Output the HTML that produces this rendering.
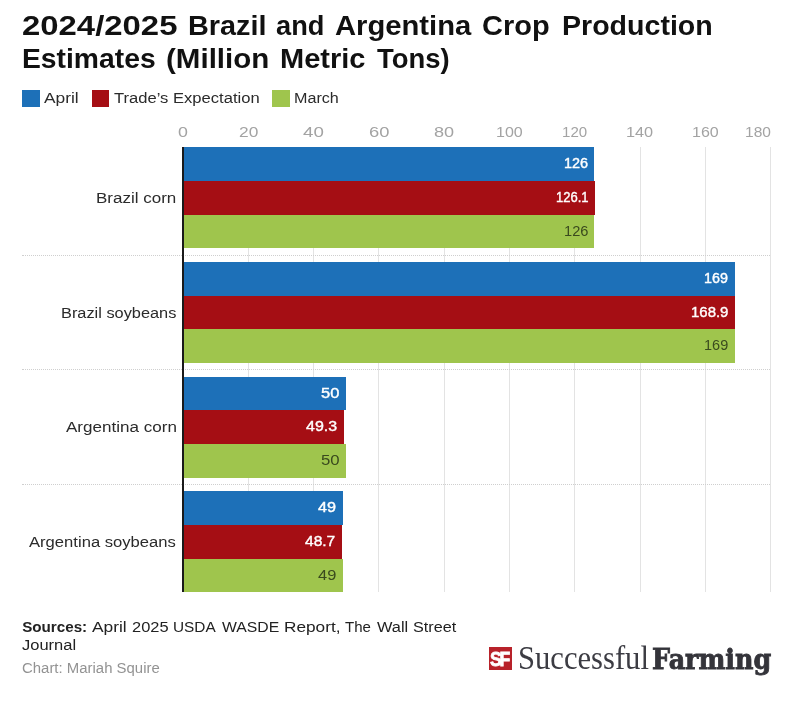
<!DOCTYPE html>
<html lang="en"><head><meta charset="utf-8"><title>2024/2025 Brazil and Argentina Crop Production Estimates</title>
<style>
html,body{margin:0;padding:0;background:#fff;}
body{width:794px;height:702px;position:relative;overflow:hidden;font-family:"Liberation Sans", sans-serif;color:#333;}
.t{position:absolute;white-space:nowrap;line-height:1;transform-origin:0 0;margin:0;}
h1{margin:0;font-size:27.5px;font-weight:bold;color:#111;}
.sw{position:absolute;width:17px;height:17px;top:90px;}
.lg{color:#2b2b2b;}
.grid{position:absolute;top:147px;width:1px;height:445px;background:#e3e3e3;}
.sep{position:absolute;left:22px;width:748px;height:0;border-top:1px dotted #cfcfcf;}
.bar{position:absolute;left:184px;}
.b{background:#1d70b8;} .rd{background:#a50e14;} .g{background:#9fc54d;}
.tick{color:#a3a3a3;}
.cat{color:#2b2b2b;}
.w{color:#fff;-webkit-text-stroke:0.4px #fff;}
.d{color:#3a4a1e;}
.axis{position:absolute;left:182px;top:147px;width:2px;height:445px;background:#1a1a1a;}
.src{color:#222;} .src b{color:#111;}
.by{color:#939393;}
.sfbox{position:absolute;left:489px;top:647px;width:22.5px;height:22.7px;background:#b8222a;}
.sf{color:#fff;-webkit-text-stroke:0.8px #fff;}
.succ{color:#3c3c43;}
.farm{color:#34343a;-webkit-text-stroke:0.9px #34343a;}
</style></head>
<body>
<h1>
<span class="t" style="left:22.25px;top:11.75px;font-size:27.5px;transform:scaleX(1.1958);font-weight:bold;">2024/2025</span>
<span class="t" style="left:187.90px;top:11.75px;font-size:27.5px;transform:scaleX(1.0491);font-weight:bold;">Brazil</span>
<span class="t" style="left:276.05px;top:11.75px;font-size:27.5px;transform:scaleX(0.9895);font-weight:bold;">and</span>
<span class="t" style="left:335.25px;top:11.75px;font-size:27.5px;transform:scaleX(1.0616);font-weight:bold;">Argentina</span>
<span class="t" style="left:482.40px;top:11.75px;font-size:27.5px;transform:scaleX(1.0549);font-weight:bold;">Crop</span>
<span class="t" style="left:561.51px;top:11.75px;font-size:27.5px;transform:scaleX(1.0388);font-weight:bold;">Production</span>
<span class="t" style="left:22.42px;top:44.75px;font-size:27.5px;transform:scaleX(1.0284);font-weight:bold;">Estimates</span>
<span class="t" style="left:166.28px;top:44.75px;font-size:27.5px;transform:scaleX(1.0737);font-weight:bold;">(Million</span>
<span class="t" style="left:279.99px;top:44.75px;font-size:27.5px;transform:scaleX(1.0551);font-weight:bold;">Metric</span>
<span class="t" style="left:377.45px;top:44.75px;font-size:27.5px;transform:scaleX(0.9978);font-weight:bold;">Tons)</span>
</h1>
<div class="legend">
<div class="sw b" style="left:22px;width:18px"></div>
<span class="t lg" style="left:44.00px;top:89.85px;font-size:15.1px;transform:scaleX(1.1491);">April</span>
<div class="sw rd" style="left:92px"></div>
<span class="t lg" style="left:114.00px;top:89.85px;font-size:15.1px;transform:scaleX(1.0985);">Trade’s Expectation</span>
<div class="sw g" style="left:272px;width:18px"></div>
<span class="t lg" style="left:293.63px;top:89.85px;font-size:15.1px;transform:scaleX(1.0680);">March</span>
</div>
<div class="chart">
<div class="grid" style="left:247.5px"></div>
<div class="grid" style="left:312.9px"></div>
<div class="grid" style="left:378.2px"></div>
<div class="grid" style="left:443.5px"></div>
<div class="grid" style="left:508.8px"></div>
<div class="grid" style="left:574.2px"></div>
<div class="grid" style="left:639.5px"></div>
<div class="grid" style="left:704.8px"></div>
<div class="grid" style="left:770.2px"></div>
<span class="t tick" style="left:177.95px;top:123.80px;font-size:15.0px;transform:scaleX(1.1873);">0</span>
<span class="t tick" style="left:238.58px;top:123.80px;font-size:15.0px;transform:scaleX(1.1563);">20</span>
<span class="t tick" style="left:303.16px;top:123.80px;font-size:15.0px;transform:scaleX(1.2481);">40</span>
<span class="t tick" style="left:368.68px;top:123.80px;font-size:15.0px;transform:scaleX(1.2236);">60</span>
<span class="t tick" style="left:434.16px;top:123.80px;font-size:15.0px;transform:scaleX(1.2052);">80</span>
<span class="t tick" style="left:495.62px;top:123.80px;font-size:15.0px;transform:scaleX(1.0680);">100</span>
<span class="t tick" style="left:561.76px;top:123.80px;font-size:15.0px;transform:scaleX(1.0047);">120</span>
<span class="t tick" style="left:626.06px;top:123.80px;font-size:15.0px;transform:scaleX(1.0849);">140</span>
<span class="t tick" style="left:691.61px;top:123.80px;font-size:15.0px;transform:scaleX(1.0680);">160</span>
<span class="t tick" style="left:744.57px;top:123.80px;font-size:15.0px;transform:scaleX(1.0342);">180</span>
<div class="bar b" style="top:147px;height:34px;width:410px"></div>
<span class="t w" style="left:564.01px;top:155.70px;font-size:14.6px;transform:scaleX(0.9895);">126</span>
<div class="bar rd" style="top:181px;height:34px;width:411px"></div>
<span class="t w" style="left:555.51px;top:189.70px;font-size:14.6px;transform:scaleX(0.8923);">126.1</span>
<div class="bar g" style="top:215px;height:33px;width:410px"></div>
<span class="t d" style="left:564.00px;top:223.70px;font-size:14.6px;transform:scaleX(1.0025);">126</span>
<span class="t cat" style="left:96.48px;top:189.80px;font-size:15.2px;transform:scaleX(1.1194);">Brazil corn</span>
<div class="sep" style="top:255px"></div>
<div class="bar b" style="top:262px;height:34px;width:551px"></div>
<span class="t w" style="left:704.42px;top:270.70px;font-size:14.6px;transform:scaleX(0.9809);">169</span>
<div class="bar rd" style="top:296px;height:33px;width:551px"></div>
<span class="t w" style="left:690.88px;top:304.70px;font-size:14.6px;transform:scaleX(1.0250);">168.9</span>
<div class="bar g" style="top:329px;height:34px;width:551px"></div>
<span class="t d" style="left:704.41px;top:338.10px;font-size:14.6px;transform:scaleX(0.9938);">169</span>
<span class="t cat" style="left:60.52px;top:304.80px;font-size:15.2px;transform:scaleX(1.0757);">Brazil soybeans</span>
<div class="sep" style="top:369px"></div>
<div class="bar b" style="top:377px;height:33px;width:162px"></div>
<span class="t w" style="left:321.00px;top:385.70px;font-size:14.6px;transform:scaleX(1.1292);">50</span>
<div class="bar rd" style="top:410px;height:34px;width:160px"></div>
<span class="t w" style="left:306.20px;top:419.30px;font-size:14.6px;transform:scaleX(1.0958);">49.3</span>
<div class="bar g" style="top:444px;height:34px;width:162px"></div>
<span class="t d" style="left:321.00px;top:452.80px;font-size:14.6px;transform:scaleX(1.1478);">50</span>
<span class="t cat" style="left:65.90px;top:418.90px;font-size:15.2px;transform:scaleX(1.1227);">Argentina corn</span>
<div class="sep" style="top:484px"></div>
<div class="bar b" style="top:491px;height:34px;width:159px"></div>
<span class="t w" style="left:318.30px;top:499.70px;font-size:14.6px;transform:scaleX(1.1106);">49</span>
<div class="bar rd" style="top:525px;height:34px;width:158px"></div>
<span class="t w" style="left:305.10px;top:533.80px;font-size:14.6px;transform:scaleX(1.0640);">48.7</span>
<div class="bar g" style="top:559px;height:33px;width:159px"></div>
<span class="t d" style="left:318.30px;top:567.80px;font-size:14.6px;transform:scaleX(1.1292);">49</span>
<span class="t cat" style="left:29.00px;top:533.70px;font-size:15.2px;transform:scaleX(1.0939);">Argentina soybeans</span>
<div class="axis"></div>
</div>
<div class="footer">
<b class="t src" style="left:22.20px;top:618.90px;font-size:15.2px;">Sources:</b>
<span class="t src" style="left:92.00px;top:618.90px;font-size:15.2px;transform:scaleX(1.1427);">April</span>
<span class="t src" style="left:132.00px;top:618.90px;font-size:15.2px;transform:scaleX(1.0824);">2025</span>
<span class="t src" style="left:172.99px;top:618.90px;font-size:15.2px;transform:scaleX(1.0125);">USDA</span>
<span class="t src" style="left:222.00px;top:618.90px;font-size:15.2px;transform:scaleX(1.0380);">WASDE</span>
<span class="t src" style="left:284.37px;top:618.90px;font-size:15.2px;transform:scaleX(1.1346);">Report,</span>
<span class="t src" style="left:345.00px;top:618.90px;font-size:15.2px;transform:scaleX(0.9912);">The</span>
<span class="t src" style="left:376.70px;top:618.90px;font-size:15.2px;transform:scaleX(1.0771);">Wall</span>
<span class="t src" style="left:413.40px;top:618.90px;font-size:15.2px;transform:scaleX(1.0651);">Street</span>
<span class="t src" style="left:22.20px;top:636.90px;font-size:15.2px;transform:scaleX(1.0862);">Journal</span>
<span class="t by" style="left:22.40px;top:660.60px;font-size:14px;transform:scaleX(1.0666);">Chart: Mariah Squire</span>
</div>
<div class="logo"><div class="sfbox"></div>
<span class="t sf" style="left:490.30px;top:648.60px;font-size:20.2px;transform:scaleX(0.8698);font-weight:bold;letter-spacing:-2.6px;">SF</span>
<span class="t succ" style="left:517.87px;top:640.90px;font-size:33.4px;transform:scaleX(0.9165);font-family:'Liberation Serif', serif;">Successful</span>
<span class="t farm" style="left:651.90px;top:644.95px;font-size:28.3px;transform:scaleX(0.8973);font-family:'DejaVu Serif', serif;font-weight:bold;">Farming</span>
</div>
</body></html>
